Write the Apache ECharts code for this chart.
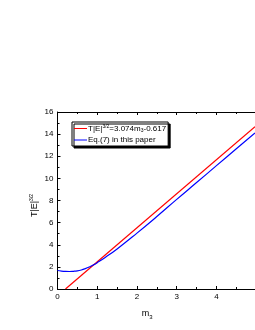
<!DOCTYPE html>
<html><head><meta charset="utf-8">
<script src="https://cdn.jsdelivr.net/npm/echarts@6/dist/echarts.min.js"></script>
<style>html,body{margin:0;padding:0;background:#fff}#c{width:255px;height:330px}</style>
</head><body><div id="c"></div>
<script>
var xTicks = [0, 1, 2, 3, 4];
var yTicks = [0, 2, 4, 6, 8, 10, 12, 14, 16];
var redX = [0.2007, 4.97];
var redY = [0, 14.66];
var blueX = [0, 0.1, 0.2, 0.3, 0.4, 0.5, 0.6, 0.7, 0.8, 0.9, 1.0, 1.2, 1.5, 2.0, 2.5, 3.0, 3.5, 4.0, 4.5, 4.97];
var blueY = [1.67, 1.62, 1.59, 1.58, 1.6, 1.64, 1.72, 1.84, 1.99, 2.17, 2.38, 2.85, 3.62, 5.05, 6.55, 8.1, 9.62, 11.15, 12.68, 14.1];
var chart = echarts.init(document.getElementById('c'), null, {renderer: 'canvas'});
var font = 'Liberation Sans';
function pairs(xs, ys){ return xs.map(function(x,i){return [x, ys[i]];}); }
var axisCommon = {
  axisLine: {show: true, onZero: false, lineStyle: {color: '#000', width: 1}},
  axisTick: {show: true, inside: true, length: 3, lineStyle: {color: '#000'}},
  minorTick: {show: true, splitNumber: 2, length: 2, lineStyle: {color: '#000'}},
  splitLine: {show: false}
};
chart.setOption({
  animation: false,
  textStyle: {fontFamily: font},
  grid: {left: 57.5, right: 0, top: 112, bottom: 41, containLabel: false},
  xAxis: [Object.assign({
    type: 'value', min: 0, max: 4.97, interval: 1,
    name: 'm{sub|3}', nameLocation: 'middle', nameGap: 19, nameMoveOverlap: false,
    nameTextStyle: {fontSize: 9, color: '#000', fontFamily: font, padding: [0, 18, 0, 0], rich: {sub: {fontSize: 6, verticalAlign: 'bottom', padding: [6,0,0,0]}}},
    axisLabel: {fontSize: 8, color: '#000', margin: 4, showMaxLabel: false, fontFamily: font}
  }, axisCommon), Object.assign({
    type: 'value', min: 0, max: 4.97, interval: 1, position: 'top',
    axisLabel: {show: false}
  }, axisCommon)],
  yAxis: [Object.assign({
    type: 'value', min: 0, max: 16, interval: 2,
    name: 'T|E|{sup|3/2}', nameLocation: 'middle', nameGap: 17, nameRotate: 90, nameMoveOverlap: false,
    nameTextStyle: {fontSize: 9, color: '#000', fontFamily: font, padding: [0, 10, 0, 0], rich: {sup: {fontSize: 5, verticalAlign: 'top', padding: [0,0,6,0]}}},
    axisLabel: {fontSize: 8, color: '#000', margin: 4, fontFamily: font}
  }, axisCommon)],
  legend: {
    orient: 'vertical', left: 72, top: 122,
    padding: [2, 2, 2, 2], itemGap: 3, itemWidth: 13, itemHeight: 8,
    backgroundColor: '#fff', borderColor: '#000', borderWidth: 1,
    shadowColor: '#000', shadowOffsetX: 2, shadowOffsetY: 2, shadowBlur: 0,
    icon: 'path://M0,4L13,4L13,5L0,5Z',
    textStyle: {fontSize: 8, color: '#000', fontFamily: font, padding: [0,0,0,-4],
      rich: {sup: {fontSize: 5, verticalAlign: 'top', padding: [0,0,4,0]}, sub: {fontSize: 5, verticalAlign: 'bottom', padding: [4,0,0,0]}, t: {fontSize: 8}}},
    formatter: function(name){
      if (name === 'red') return '{t|T|E|}{sup|3/2}{t|=3.074m}{sub|3}{t|-0.617}';
      return '{t|Eq.(7) in this paper}';
    },
    data: ['red', 'blue']
  },
  series: [
    {name: 'red', type: 'line', data: pairs(redX, redY), showSymbol: false, symbol: 'none', lineStyle: {color: '#ff0000', width: 1.2}, itemStyle: {color: '#ff0000'}, clip: true},
    {name: 'blue', type: 'line', data: pairs(blueX, blueY), smooth: true, showSymbol: false, symbol: 'none', lineStyle: {color: '#0000ff', width: 1.2}, itemStyle: {color: '#0000ff'}, clip: true}
  ]
});
</script></body></html>
